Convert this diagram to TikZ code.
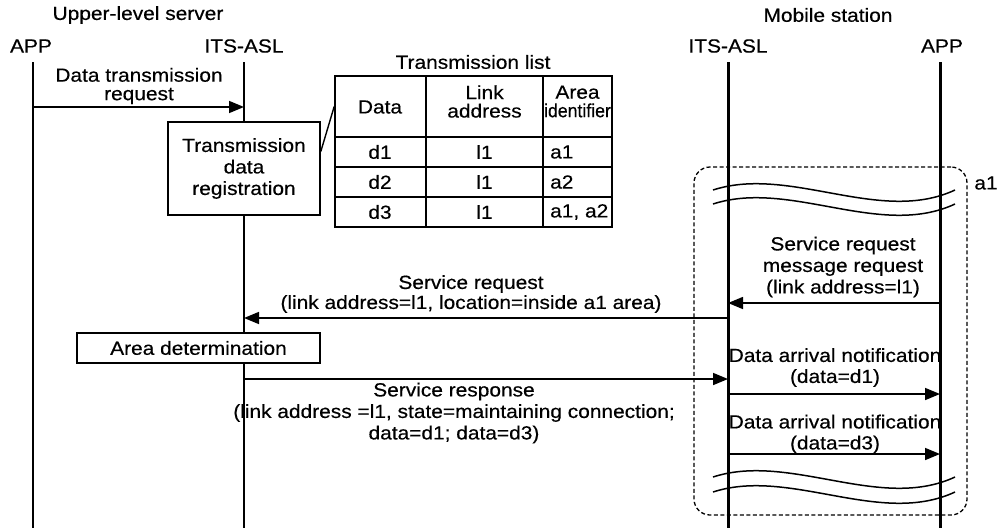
\documentclass[tikz,border=0pt]{standalone}
\usepackage{fontspec}
\setmainfont[FakeStretch=1.1,FakeBold=0.4]{Liberation Sans}
\newfontfamily\narrowfont[FakeStretch=0.93,FakeBold=0.4]{Liberation Sans}
\usetikzlibrary{arrows.meta,calc}
\begin{document}
\begin{tikzpicture}[x=1pt,y=-1pt,
  txt/.style={inner sep=0pt, align=center, font=\fontsize{19}{21.5}\selectfont},
  txtb/.style={inner sep=0pt, align=center, font=\fontsize{19}{18.5}\selectfont},
  lifethin/.style={line width=1.5pt},
  lifethick/.style={line width=3pt},
  msg/.style={line width=1.6pt, -{Triangle[length=15pt,width=12pt]}},
  procbox/.style={draw, line width=1.6pt, fill=white, inner sep=0pt, align=center,
     font=\fontsize{19}{21.5}\selectfont},
  tline/.style={line width=1.6pt},
  wave/.style={line width=1.5pt},
  areabox/.style={draw, line width=1.3pt, dash pattern=on 4pt off 2.5pt, rounded corners=16pt}
]
\useasboundingbox (0,0) rectangle (1000,528);

% headings
\node[txt] (hUp) at (138,15) {Upper-level server};
\node[txt] (hMob) at (828,15) {Mobile station};
\node[txt] (nAppL) at (31,46) {APP};
\node[txt] (nAslL) at (244,46) {ITS-ASL};
\node[txt] (nAslR) at (728,46) {ITS-ASL};
\node[txt] (nAppR) at (942,46) {APP};

% lifeline coordinates
\coordinate (appLt) at (33,62);  \coordinate (appLb) at (33,528);
\coordinate (aslLt) at (244,62); \coordinate (aslLb) at (244,528);
\coordinate (aslRt) at (728,62); \coordinate (aslRb) at (728,528);
\coordinate (appRt) at (940,62); \coordinate (appRb) at (940,528);

\draw[lifethin] (appLt) -- (appLb);
\draw[lifethin] (aslLt) -- (aslLb);
\draw[lifethick] (aslRt) -- (aslRb);
\draw[lifethick] (appRt) -- (appRb);

% area a1
\node[areabox, minimum width=273pt, minimum height=348pt] (area) at (830.5,341) {};
\node[txt] (lblA1) at (986,183) {a1};

% waves
\draw[wave] (713,190) .. controls (790,165) and (880,225) .. (955,190);
\draw[wave] (713,204) .. controls (790,179) and (880,239) .. (955,204);
\draw[wave] (713,477) .. controls (790,452) and (880,512) .. (955,477);
\draw[wave] (713,492) .. controls (790,467) and (880,527) .. (955,492);

% data transmission request
\coordinate (m1s) at (33,107); \coordinate (m1e) at (244,107);
\draw[msg] (m1s) -- (m1e);
\node[txtb] (m1t) at (139,86) {Data transmission\\request};

% registration box
\node[procbox, minimum width=152pt, minimum height=93pt] (reg) at (244,168.5)
  {Transmission\\data\\registration};

% table
\node[txt] (tblT) at (473,62) {Transmission list};
\node[draw, tline, minimum width=277pt, minimum height=151pt, inner sep=0pt] (tbl) at (473.5,151.5) {};
\coordinate (c1t) at (426,76); \coordinate (c1b) at (426,227);
\coordinate (c2t) at (543,76); \coordinate (c2b) at (543,227);
\coordinate (r1l) at (335,137); \coordinate (r1r) at (612,137);
\coordinate (r2l) at (335,167); \coordinate (r2r) at (612,167);
\coordinate (r3l) at (335,197); \coordinate (r3r) at (612,197);
\draw[tline] (c1t) -- (c1b);
\draw[tline] (c2t) -- (c2b);
\draw[tline] (r1l) -- (r1r);
\draw[tline] (r2l) -- (r2r);
\draw[tline] (r3l) -- (r3r);
\node[txt] (thData) at (380,107) {Data};
\node[txtb] (thLink) at (484.5,101.5) {Link\\address};
\node[txtb] (thArea) at (577.5,101.5) {Area\\{\narrowfont identifier}};
\node[txt] (d1) at (380,152) {d1};
\node[txt] (d2) at (380,182) {d2};
\node[txt] (d3) at (380,212) {d3};
\node[txt] (l1a) at (484.5,152) {l1};
\node[txt] (l1b) at (484.5,182) {l1};
\node[txt] (l1c) at (484.5,212) {l1};
\node[txt, anchor=west] (a1a) at (550,152) {a1};
\node[txt, anchor=west] (a1b) at (550,182) {a2};
\node[txt, anchor=west] (a1c) at (550,212) {a1, a2};
\draw[line width=1.4pt] ($(reg.north east)!0.32!(reg.south east)$) -- ($(tbl.north west)!0.205!(tbl.south west)$);

% service request message request
\coordinate (m2s) at (940,303); \coordinate (m2e) at (728,303);
\draw[msg] (m2s) -- (m2e);
\node[txt] (m2t) at (843,267) {Service request\\message request\\(link address=l1)};

% service request
\coordinate (m3s) at (728,318); \coordinate (m3e) at (244,318);
\draw[msg] (m3s) -- (m3e);
\node[txt, font=\fontsize{19}{20}\selectfont] (m3t) at (471,294) {Service request\\(link address=l1, location=inside a1 area)};

% area determination
\node[procbox, minimum width=243pt, minimum height=30pt] (adet) at (198.5,348) {Area determination};

% service response
\coordinate (m4s) at (244,379); \coordinate (m4e) at (728,379);
\draw[msg] (m4s) -- (m4e);
\node[txt] (m4t) at (454,413) {Service response\\(link address =l1, state=maintaining connection;\\data=d1; data=d3)};

% data arrival notifications
\coordinate (m5s) at (728,394); \coordinate (m5e) at (940,394);
\draw[msg] (m5s) -- (m5e);
\node[txt, font=\fontsize{19}{21}\selectfont] (m5t) at (835,367.5) {Data arrival notification\\(data=d1)};
\coordinate (m6s) at (728,454); \coordinate (m6e) at (940,454);
\draw[msg] (m6s) -- (m6e);
\node[txt, font=\fontsize{19}{21}\selectfont] (m6t) at (835,434) {Data arrival notification\\(data=d3)};
\end{tikzpicture}
\end{document}
